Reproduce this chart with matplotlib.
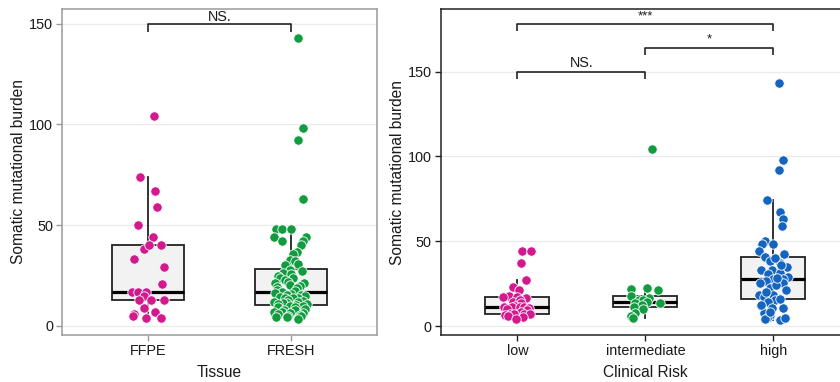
import matplotlib
matplotlib.use("Agg")
import matplotlib.pyplot as plt
import numpy as np

plt.rcParams['font.family'] = ['Liberation Sans', 'DejaVu Sans']

# ---------------- data ----------------
tissue_categories = ["FFPE", "FRESH"]
ffpe_values = [104, 74, 67, 59, 50, 44, 38, 40, 40, 33, 29, 21, 17, 17, 17,
               15, 13, 13, 13, 9, 6, 5, 7, 4, 4]
ffpe_jitter = [0.044, -0.056, 0.049, 0.065, -0.068, 0.033, -0.030, 0.010, 0.093,
               -0.098, 0.114, 0.098, -0.114, -0.072, -0.016, -0.026, 0.023, -0.061,
               0.110, -0.026, -0.100, -0.103, 0.047, -0.014, 0.089]
fresh_values = [143, 98, 92, 63,
                48, 48, 48, 44, 44, 42, 42, 40, 36.5, 35.5, 32.7, 32, 30.7, 30.2,
                27.8, 27.3, 26.4, 26, 25, 24, 23.6, 22.8, 22, 21.2, 21.2, 20.3, 20,
                19.2, 19, 18, 17.5, 17,
                16.2, 16, 15.4, 15.4, 15, 14.5, 14, 14, 13.7, 13, 12.5, 12, 12, 11.5,
                11.3, 11, 10.8, 10.4,
                9.9, 9.9, 9.6, 9.6, 8.5, 8, 8, 7.1, 7.1, 6.3, 6.3, 6, 5.5, 5, 5,
                4.3, 4.3, 3.3]
fresh_jitter = [0.047, 0.082, 0.051, 0.082,
                -0.107, -0.061, -0.002, -0.117, 0.103, -0.061, 0.086, 0.070, 0.040,
                0.016, -0.007, 0.028, 0.051, -0.042,
                -0.007, 0.075, -0.058, 0.000, -0.090, -0.077, 0.016, -0.042, -0.020,
                0.093, -0.112, -0.007, 0.060, -0.096, 0.040, -0.100, 0.028, -0.061,
                -0.112, 0.000, -0.030, 0.068, 0.100, -0.077, -0.040, 0.045, 0.016,
                -0.020, 0.080, -0.117, 0.050, -0.030, -0.054, -0.090, 0.110, 0.035,
                0.086, -0.007, -0.089, 0.028, 0.100, 0.030, -0.050, -0.117, -0.061,
                -0.007, 0.086, -0.090, 0.060, -0.020, 0.070, -0.107, -0.030, 0.047]

risk_categories = ["low", "intermediate", "high"]
low_values = [44.2, 44.2, 37.2, 27.3, 23.2, 21.5, 17.5, 17.3, 17.3, 16.4, 14.2,
              15.3, 13.4, 12, 11.4, 11.4, 11.4, 11, 10.5, 10, 9.4, 8, 7.1, 7.1,
              7, 6.9, 6.5, 6.1, 5.5, 4.0]
low_jitter = [0.034, 0.105, 0.029, 0.070, -0.039, 0.008, -0.070, -0.117, -0.005,
              0.063, -0.039, 0.020, 0.030, -0.020, -0.109, -0.043, 0.016, 0.050,
              0.090, -0.080, 0.073, 0.030, 0.052, 0.099, -0.060, -0.031, -0.096,
              -0.078, 0.040, -0.010]
intermediate_values = [104.2, 21.6, 22.2, 21.2, 17.7, 16.3, 15.3, 15.3, 14.3,
                       13.4, 13.4, 12.4, 11.4, 9.8, 7.5, 6.2, 4.5]
intermediate_jitter = [0.05, -0.11, 0.01, 0.10, -0.11, 0.03, -0.05, -0.02, 0.01,
                       -0.08, 0.11, -0.03, -0.09, -0.02, -0.08, -0.11, -0.10]
high_values = [143.2, 98.1, 92.0, 74.3, 67, 63, 59.2, 50.1, 48.2, 48.4, 44.2,
               40.8, 39.9, 42.5, 38.3, 37.4, 35, 33, 33, 31.4, 30.5, 29.1, 27.9,
               27.9, 26.5, 25.2, 25.2, 21.2, 22.6, 18.3, 17.3, 18.3, 15.3, 14.3,
               11.8, 10.8, 10.4, 7.5, 6.5, 4.9, 3.5, 4.5, 4.0,
               12.4, 20, 24, 28.5, 40.3, 16, 8, 36]
high_jitter = [0.045, 0.078, 0.045, -0.054, 0.051, 0.078, 0.065, -0.065, -0.091,
               -0.005, -0.117, -0.065, 0.008, 0.083, -0.026, 0.052, 0.104, -0.097,
               -0.008, 0.052, -0.044, 0.117, 0.073, 0.000, -0.060, -0.104, 0.073,
               0.094, -0.031, -0.117, -0.078, -0.005, 0.008, -0.044, -0.097,
               -0.013, 0.078, -0.078, -0.026, -0.052, 0.047, 0.086, -0.065,
               -0.095, -0.060, 0.020, 0.030, 0.010, 0.050, -0.030, 0.060]

yticks = [0, 50, 100, 150]
tissue_comparisons = [("FFPE", "FRESH", 150, "NS.")]
risk_comparisons = [("low", "intermediate", 150, "NS."),
                    ("intermediate", "high", 164, "*"),
                    ("low", "high", 178, "***")]

colors = {"FFPE": "#D3198E", "FRESH": "#119C40",
          "low": "#D3198E", "intermediate": "#119C40", "high": "#1565C0"}

# ---------------- figure ----------------
fig = plt.figure(figsize=(8.4, 3.82), dpi=100)
axL = fig.add_axes([62 / 840, 47 / 382, 315 / 840, 326 / 382])
axR = fig.add_axes([440.7 / 840, 47 / 382, 409.6 / 840, 325.7 / 382])

TEXT = "#1a1a1a"


def draw_panel(ax, cats, groups, jitters, comps, spine_color, xlabel, ylim, tip, ns_off):
    pos = np.arange(1, len(cats) + 1)
    ax.boxplot(groups, positions=pos, widths=0.5, showfliers=False,
               showcaps=False, patch_artist=True, whis=1.5, zorder=2,
               boxprops=dict(facecolor="#F2F2F2", edgecolor="#222222", linewidth=1.3),
               medianprops=dict(color="black", linewidth=2.3),
               whiskerprops=dict(color="#222222", linewidth=1.3))
    for p, c, vals, jit in zip(pos, cats, groups, jitters):
        ax.scatter(p + np.asarray(jit), vals, s=46, color=colors[c],
                   edgecolor="white", linewidth=0.6, zorder=3)
    for a, b, y, lab in comps:
        x1 = cats.index(a) + 1
        x2 = cats.index(b) + 1
        ax.plot([x1, x1, x2, x2], [y - tip, y, y, y - tip], color="#222222",
                linewidth=1.2, zorder=4, solid_capstyle="butt")
        if lab == "NS.":
            ax.annotate(lab, ((x1 + x2) / 2, y), xytext=(0, ns_off),
                        textcoords="offset points", ha="center", va="center",
                        fontsize=10.4, color=TEXT)
        else:
            ax.text((x1 + x2) / 2, y + 1.2, lab, ha="center", va="bottom",
                    fontsize=9.5, color=TEXT)
    ax.set_xlim(0.4, len(cats) + 0.6)
    ax.set_ylim(*ylim)
    ax.set_xticks(pos)
    ax.set_xticklabels(cats, fontsize=10.4, color=TEXT)
    ax.set_yticks(yticks)
    ax.set_yticklabels([str(t) for t in yticks], fontsize=10.4, color=TEXT)
    ax.grid(axis="y", color="#EBEBEB", linewidth=0.9, zorder=0)
    ax.set_axisbelow(True)
    for sp in ax.spines.values():
        sp.set_color(spine_color)
        sp.set_linewidth(1.1)
    ax.tick_params(axis="both", length=4, width=1, color=spine_color, pad=2.5)
    ax.set_xlabel(xlabel, fontsize=11.2, color=TEXT, labelpad=5)
    ax.set_ylabel("Somatic mutational burden", fontsize=11.2, color=TEXT, labelpad=2)


draw_panel(axL, tissue_categories, [ffpe_values, fresh_values],
           [ffpe_jitter, fresh_jitter], tissue_comparisons, "#9A9A9A",
           "Tissue", (-4.5, 157.2), 4.2, 4.6)
draw_panel(axR, risk_categories, [low_values, intermediate_values, high_values],
           [low_jitter, intermediate_jitter, high_jitter], risk_comparisons,
           "#222222", "Clinical Risk", (-5.3, 186.8), 4.2, 6.6)

fig.savefig("out.png", dpi=100)
